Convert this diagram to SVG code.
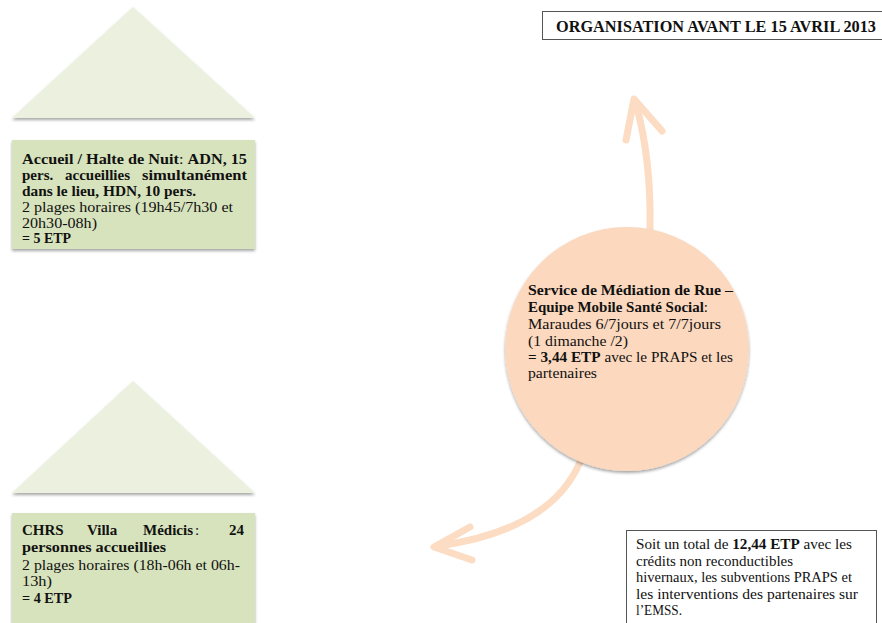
<svg xmlns="http://www.w3.org/2000/svg" width="882" height="623" viewBox="0 0 882 623">
<defs>
<filter id="sh" x="-10%" y="-10%" width="120%" height="130%">
<feDropShadow dx="0" dy="2" stdDeviation="1.5" flood-color="#000" flood-opacity="0.35"/>
</filter>
<style>
text{font-family:"Liberation Serif","Times New Roman",serif;font-size:15px;fill:#111}
.b{font-weight:bold}
.tri{fill:#ebf1de;filter:url(#sh)}
.box{fill:#d7e3bc;filter:url(#sh)}
.frame{fill:#fff;stroke:#555;stroke-width:1}
.arr{fill:none;stroke:#fcdcc3;stroke-width:7;stroke-linecap:round;stroke-linejoin:round}
</style>
</defs>
<rect width="882" height="623" fill="#fff"/>

<g id="title">
<rect class="frame" x="542.5" y="11.5" width="345" height="28"/>
<text class="b" x="556" y="32" style="font-size:15.8px" textLength="320" lengthAdjust="spacingAndGlyphs">ORGANISATION AVANT LE 15 AVRIL 2013</text>
</g>

<g id="halte-nuit">
<polygon class="tri" points="133,7 255,118 12,118"/>
<rect class="box" x="12" y="140" width="243" height="109"/>
<text x="22" y="164" textLength="225" lengthAdjust="spacingAndGlyphs"><tspan class="b">Accueil / Halte de Nuit</tspan>: <tspan class="b">ADN, 15</tspan></text>
<text class="b" y="180"><tspan x="22">pers.</tspan><tspan x="65">accueillies</tspan></text>
<text class="b" x="142" y="180" textLength="105" lengthAdjust="spacingAndGlyphs">simultanément</text>
<text class="b" x="22" y="196" textLength="174" lengthAdjust="spacingAndGlyphs">dans le lieu, HDN, 10 pers.</text>
<text x="22" y="212" textLength="211" lengthAdjust="spacingAndGlyphs">2 plages horaires (19h45/7h30 et</text>
<text x="22" y="228" textLength="75" lengthAdjust="spacingAndGlyphs">20h30-08h)</text>
<text class="b" x="22" y="243" textLength="49" lengthAdjust="spacingAndGlyphs">= 5 ETP</text>
</g>

<g id="chrs">
<polygon class="tri" points="133,381 255,493 12,493"/>
<rect class="box" x="12" y="513" width="243" height="120"/>
<text y="535"><tspan class="b" x="22">CHRS</tspan><tspan class="b" x="87">Villa</tspan><tspan class="b" x="143">Médicis</tspan><tspan x="195">:</tspan><tspan class="b" x="229">24</tspan></text>
<text class="b" x="22" y="552" textLength="144" lengthAdjust="spacingAndGlyphs">personnes accueillies</text>
<text x="22" y="570" textLength="218" lengthAdjust="spacingAndGlyphs">2 plages horaires (18h-06h et 06h-</text>
<text x="22" y="586" textLength="30" lengthAdjust="spacingAndGlyphs">13h)</text>
<text class="b" x="22" y="603" textLength="50" lengthAdjust="spacingAndGlyphs">= 4 ETP</text>
</g>

<g id="connectors">
<path class="arr" d="M650,230 C651,180 646,140 636,104"/>
<polyline class="arr" points="626,140 634,99 662,131"/>
<path class="arr" d="M580,462 Q551,530 438,546"/>
<polyline class="arr" points="470,527 434,547 472,560"/>
</g>

<g id="emss">
<circle cx="627" cy="349" r="122" fill="#fbd8be" filter="url(#sh)"/>
<text class="b" x="528" y="295" textLength="205" lengthAdjust="spacingAndGlyphs">Service de Médiation de Rue –</text>
<text x="528" y="312" textLength="180" lengthAdjust="spacingAndGlyphs"><tspan class="b">Equipe Mobile Santé Social</tspan>:</text>
<text x="528" y="329" textLength="193" lengthAdjust="spacingAndGlyphs">Maraudes 6/7jours et 7/7jours</text>
<text x="528" y="346" textLength="100" lengthAdjust="spacingAndGlyphs">(1 dimanche /2)</text>
<text x="528" y="362" textLength="205" lengthAdjust="spacingAndGlyphs"><tspan class="b">= 3,44 ETP</tspan> avec le PRAPS et les</text>
<text x="528" y="378" textLength="69" lengthAdjust="spacingAndGlyphs">partenaires</text>
</g>

<g id="total">
<rect class="frame" x="626.5" y="530.5" width="250" height="100"/>
<text x="636" y="549" textLength="216" lengthAdjust="spacingAndGlyphs">Soit un total de <tspan class="b">12,44 ETP</tspan> avec les</text>
<text x="636" y="566" textLength="157" lengthAdjust="spacingAndGlyphs">crédits non reconductibles</text>
<text x="636" y="582" textLength="216" lengthAdjust="spacingAndGlyphs">hivernaux, les subventions PRAPS et</text>
<text x="636" y="599" textLength="222" lengthAdjust="spacingAndGlyphs">les interventions des partenaires sur</text>
<text x="636" y="615" textLength="46" lengthAdjust="spacingAndGlyphs">l’EMSS.</text>
</g>
</svg>
